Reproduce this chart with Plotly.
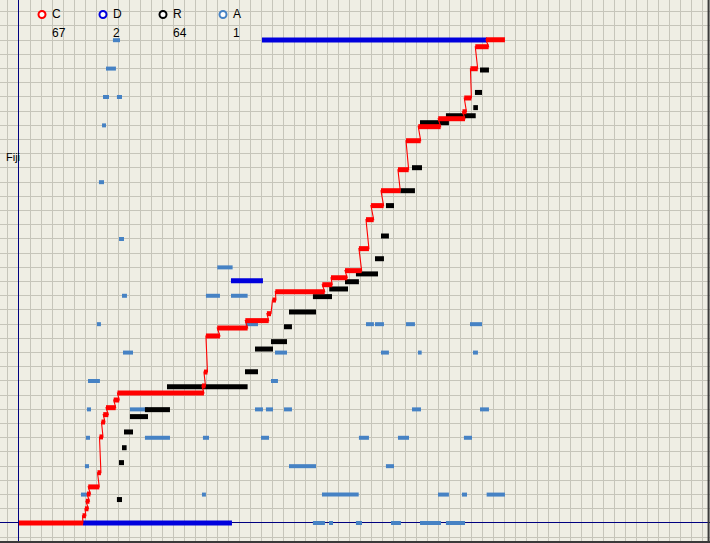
import plotly.graph_objects as go

# ---- data (x in grid columns, y in grid rows) ----
c_start = [0, 5.76, 5.98, 6.07, 6.17, 6.28, 7.12, 7.30, 7.48, 7.64, 7.89, 8.59, 8.93, 16.59, 16.77, 16.95,
           17.98, 20.52, 22.48, 22.98, 23.24, 27.50, 28.29, 29.56, 30.82, 31.46, 31.91, 32.82, 34.36, 35.09,
           36.20, 38.01, 40.21, 40.37, 40.93, 41.37, 42.34]
c_end = [5.80, 6.07, 6.30, 6.39, 6.48, 7.28, 7.43, 7.62, 7.80, 8.10, 8.77, 9.09, 16.77, 16.91, 17.09, 18.22,
         20.73, 22.64, 22.85, 23.30, 27.72, 28.40, 29.76, 31.07, 31.73, 32.16, 33.06, 34.57, 35.33, 36.42,
         38.23, 40.44, 40.57, 41.02, 41.59, 42.58, 44.06]
c_row = [0, 0.51, 1.0, 1.53, 2.04, 2.54, 3.54, 6.06, 7.11, 7.63, 8.12, 8.66, 9.15, 9.65, 10.63, 13.17,
         13.73, 14.25, 14.74, 15.70, 16.29, 16.78, 17.27, 17.77, 19.32, 21.36, 22.35, 23.40, 24.88, 26.92,
         27.91, 28.47, 28.96, 29.93, 31.99, 33.54, 34.03]

r_start = [8.88, 9.07, 9.34, 9.52, 10.06, 11.42, 13.42, 20.49, 21.40, 22.85, 24.03, 24.48, 26.65, 28.13,
           29.56, 30.55, 32.28, 32.82, 33.27, 34.57, 35.63, 36.36, 38.71, 41.19, 41.34, 41.80]
r_end = [9.34, 9.52, 9.76, 10.34, 11.70, 13.69, 20.73, 21.67, 23.03, 24.30, 24.75, 26.93, 28.38, 29.83,
         30.82, 32.55, 33.09, 33.54, 34.00, 35.90, 36.54, 38.98, 41.41, 41.61, 41.98, 42.61]
r_row = [1.65, 4.25, 5.30, 6.41, 7.49, 7.98, 9.60, 10.65, 12.25, 12.77, 13.82, 14.86, 15.94, 16.48,
         16.99, 17.54, 18.61, 20.21, 22.35, 23.40, 25.02, 28.19, 28.68, 29.25, 30.32, 31.90]

d_start = [5.80, 19.22, 22.03]
d_end = [19.31, 22.12, 42.43]
d_row = [0, 17.06, 34.01]

a_row = [34, 32, 30, 30, 28, 24, 20, 18,
         16, 16, 16,
         14, 14, 14, 14, 14, 14,
         12, 12, 12, 12, 12,
         10, 10,
         8, 8, 8, 8, 8, 8, 8,
         6, 6, 6, 6, 6, 6, 6,
         4, 4, 4,
         2, 2, 2, 2, 2, 2,
         0, 0, 0, 0, 0, 0]
a_start = [8.52, 7.89, 7.62, 8.88, 7.53, 7.25, 9.07, 17.98,
           9.34, 16.95, 19.22,
           7.07, 20.55, 31.46, 32.28, 35.09, 40.89,
           9.43, 23.21, 32.82, 36.17, 41.16,
           6.26, 22.85,
           6.16, 10.06, 21.40, 22.39, 24.03, 35.63, 41.80,
           6.07, 11.42, 16.68, 21.94, 30.82, 34.36, 40.34,
           5.98, 24.48, 33.27,
           5.62, 16.59, 27.47, 37.99, 40.16, 42.40,
           26.65, 28.11, 30.55, 33.73, 36.36, 38.71]
a_end = [9.16, 8.79, 8.16, 9.34, 7.89, 7.71, 9.52, 19.37,
         9.79, 18.22, 20.73,
         7.43, 21.67, 32.18, 33.09, 35.90, 41.98,
         10.34, 24.30, 33.54, 36.51, 41.61,
         7.34, 23.48,
         6.53, 11.70, 22.12, 23.03, 24.75, 36.45, 42.61,
         6.44, 13.69, 17.23, 22.67, 31.73, 35.36, 41.07,
         6.35, 26.93, 34.00,
         6.16, 16.95, 30.80, 38.98, 40.62, 44.06,
         27.74, 28.47, 31.10, 34.63, 38.26, 40.44]

legend_names = ["C", "D", "R", "A"]
legend_counts = ["67", "2", "64", "1"]
row_label = "Fiji"
row_label_y = 25.8

COL_C = "#FF0000"
COL_D = "#0000DD"
COL_R = "#000000"
COL_A = "#4682C4"
BG = "#EFEEE4"
GRID = "#C6C5BA"
AXIS = "#000080"


def segs(starts, ends, rows):
    xs, ys = [], []
    for s, e, r in zip(starts, ends, rows):
        xs += [s, e, None]
        ys += [r, r, None]
    return xs, ys


fig = go.Figure()

ax, ay = segs(a_start, a_end, a_row)
fig.add_trace(go.Scatter(x=ax, y=ay, mode="lines", line=dict(color=COL_A, width=4), hoverinfo="skip"))
rx, ry = segs(r_start, r_end, r_row)
fig.add_trace(go.Scatter(x=rx, y=ry, mode="lines", line=dict(color=COL_R, width=5), hoverinfo="skip"))
dx, dy = segs(d_start, d_end, d_row)
fig.add_trace(go.Scatter(x=dx, y=dy, mode="lines", line=dict(color=COL_D, width=5), hoverinfo="skip"))

# thin connector through the C steps
px, py = [], []
for s, e, r in zip(c_start, c_end, c_row):
    px += [s, e]
    py += [r, r]
fig.add_trace(go.Scatter(x=px, y=py, mode="lines", line=dict(color=COL_C, width=1.1), hoverinfo="skip"))
cx, cy = segs(c_start, c_end, c_row)
fig.add_trace(go.Scatter(x=cx, y=cy, mode="lines", line=dict(color=COL_C, width=5), hoverinfo="skip"))

W, H = 710, 543
x_left, x_right = -1.72, 62.65
y_bot, y_top = -1.41, 36.83

axis_common = dict(showticklabels=False, ticks="", showgrid=True, gridcolor=GRID, gridwidth=1,
                   zeroline=True, zerolinecolor=AXIS, zerolinewidth=1, showline=False, dtick=1, tick0=0)
fig.update_layout(
    width=W, height=H, margin=dict(l=0, r=0, t=0, b=0),
    paper_bgcolor=BG, plot_bgcolor=BG, showlegend=False,
    xaxis=dict(range=[x_left, x_right], **axis_common),
    yaxis=dict(range=[y_bot, y_top], **axis_common),
    font=dict(family="Liberation Sans, Arial, sans-serif", size=12, color="#000000"),
)

# legend built from rings + text
legend_cols = [COL_C, COL_D, COL_R, COL_A]
legend_px = [42, 103, 163, 223]
shapes = []
annots = []
for name, cnt, col, lx in zip(legend_names, legend_counts, legend_cols, legend_px):
    shapes.append(dict(type="circle", xref="paper", yref="paper", xsizemode="pixel", ysizemode="pixel",
                       xanchor=lx / W, yanchor=1 - 14.5 / H, x0=-3.5, x1=3.5, y0=-3.5, y1=3.5,
                       line=dict(color=col, width=2), fillcolor="#FFFFFF"))
    annots.append(dict(text=name, xref="paper", yref="paper", x=(lx + 8) / W, y=1 - 14.5 / H,
                       xanchor="left", yanchor="middle", showarrow=False, font=dict(size=12)))
    annots.append(dict(text=cnt, xref="paper", yref="paper", x=(lx + 8) / W, y=1 - 33 / H,
                       xanchor="left", yanchor="middle", showarrow=False, font=dict(size=12)))

annots.append(dict(text=row_label, xref="paper", yref="y", x=4 / W, y=row_label_y,
                   xanchor="left", yanchor="middle", showarrow=False, font=dict(size=11)))

# window frame (right / bottom dark edges)
shapes.append(dict(type="line", xref="paper", yref="paper", x0=0, x1=1, y0=0.002, y1=0.002,
                   line=dict(color="#3A3A3A", width=2)))
shapes.append(dict(type="line", xref="paper", yref="paper", x0=0.998, x1=0.998, y0=0, y1=1,
                   line=dict(color="#3A3A3A", width=2)))

fig.update_layout(shapes=shapes, annotations=annots)
fig.write_html("out.html")
